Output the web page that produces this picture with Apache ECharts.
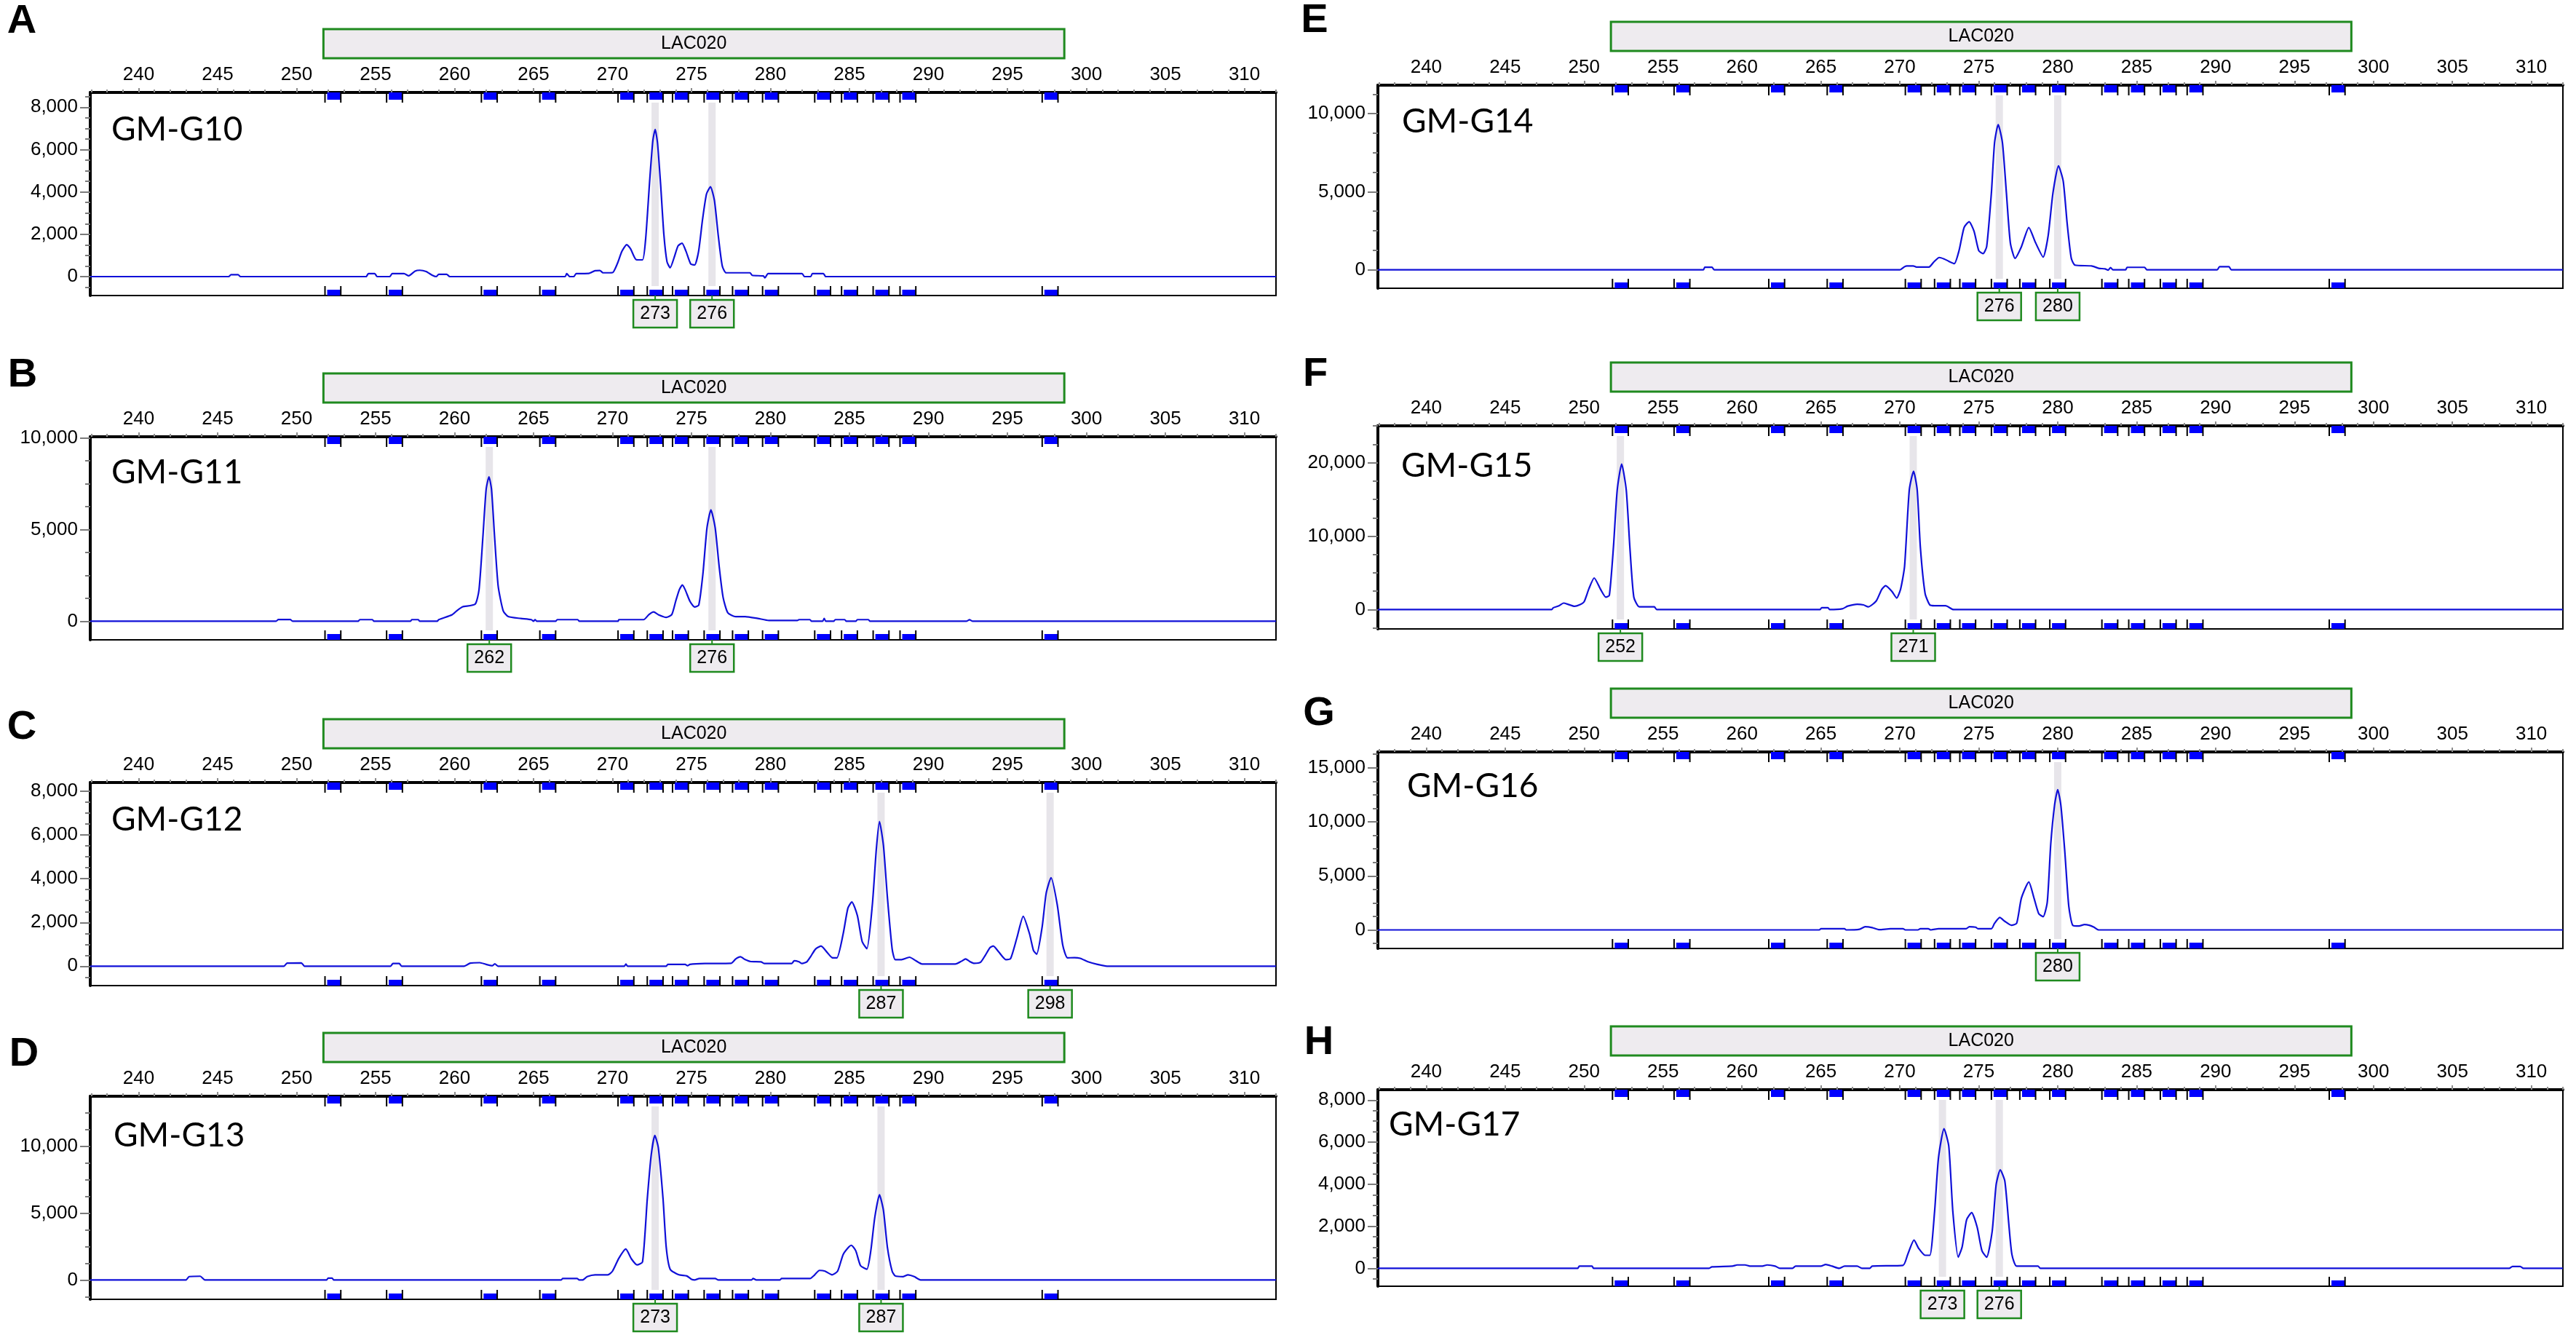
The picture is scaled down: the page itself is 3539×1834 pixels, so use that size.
<!DOCTYPE html>
<html style="height: 100%">
<head>
<meta charset="utf-8">
<script src="https://cdn.jsdelivr.net/npm/echarts@6/dist/echarts.min.js"></script>
</head>
<body style="height: 100%; margin: 0; background: #fff">
<div id="container" style="width: 3539px; height: 1834px"></div>
<script type="text/javascript">
// size axis (bp)
var sizeMin = 236.94, sizeMax = 312.0;
var sizeLabels = [240, 245, 250, 255, 260, 265, 270, 275, 280, 285, 290, 295, 300, 305, 310];
// allele bins of LAC020 (bin centres in bp)
var binSizes = [252.3, 256.2, 262.2, 265.9, 270.85, 272.7, 274.3, 276.3, 278.1, 280.0, 283.3, 285.0, 287.0, 288.7, 297.7];
var markerRange = [251.7, 298.6];
var markerName = 'LAC020';

var panelLetters = ['A', 'B', 'C', 'D', 'E', 'F', 'G', 'H'];
var sampleNames = ['GM-G10', 'GM-G11', 'GM-G12', 'GM-G13', 'GM-G14', 'GM-G15', 'GM-G16', 'GM-G17'];
// RFU range of each panel
var yMins = [-894, -1017, -890, -1446, -1179, -2636, -1717, -852];
var yMaxs = [8698, 10065, 8406, 13718, 11822, 25013, 16465, 8496];
var yLabelValues = [
  [0, 2000, 4000, 6000, 8000],
  [0, 5000, 10000],
  [0, 2000, 4000, 6000, 8000],
  [0, 5000, 10000],
  [0, 5000, 10000],
  [0, 10000, 20000],
  [0, 5000, 10000, 15000],
  [0, 2000, 4000, 6000, 8000]
];
var yMinorSteps = [500, 1250, 500, 1250, 1250, 2500, 1250, 500];

// called alleles: bin position and label
var callSizes = [[272.7, 276.3], [262.2, 276.3], [287.0, 297.7], [272.7, 287.0], [276.3, 280.0], [252.3, 270.85], [280.0], [272.7, 276.3]];
var callLabels = [['273', '276'], ['262', '276'], ['287', '298'], ['273', '287'], ['276', '280'], ['252', '271'], ['280'], ['273', '276']];

// electropherogram traces [size, RFU]
var traceG10 = [[236.94,0],[245.7,0],[245.85,90],[246.3,90],[246.45,0],[254.4,0],[254.55,140],[254.95,140],[255.1,0],[255.9,0],[256.05,140],[256.8,140],[257.1,40],[257.5,260],[257.8,300],[258.2,240],[258.6,60],[258.85,0],[259.0,110],[259.5,110],[259.7,0],[267.0,0],[267.1,140],[267.3,0],[267.55,0],[267.7,140],[268.5,150],[268.9,280],[269.2,290],[269.4,180],[270.0,190],[270.3,600],[270.6,1200],[270.9,1510],[271.15,1300],[271.5,800],[271.9,790],[272.1,1800],[272.35,4500],[272.55,6400],[272.7,6950],[272.85,6300],[273.05,4300],[273.25,2000],[273.45,700],[273.65,420],[273.9,900],[274.15,1450],[274.4,1580],[274.65,1200],[274.95,600],[275.2,550],[275.45,1200],[275.7,2700],[275.95,3900],[276.2,4240],[276.45,3600],[276.7,1900],[276.95,500],[277.2,180],[278.7,180],[278.85,60],[279.55,30],[279.65,-60],[279.85,140],[282.0,140],[282.15,0],[282.55,0],[282.65,140],[283.35,140],[283.5,0],[312,0]];
var traceG11 = [[236.94,0],[248.7,0],[248.85,90],[249.6,90],[249.75,0],[253.9,0],[254.0,85],[254.8,85],[254.9,0],[257.2,0],[257.3,85],[257.7,85],[257.8,0],[258.9,0],[259.0,85],[259.85,357],[260.2,610],[260.5,780],[261.3,925],[261.55,1720],[261.8,4670],[262.0,7190],[262.18,7880],[262.34,7190],[262.53,4670],[262.76,1930],[263.08,570],[263.4,250],[264.2,150],[264.86,85],[265.0,0],[265.1,85],[265.2,0],[266.4,0],[266.5,85],[267.8,85],[267.9,0],[270.35,0],[270.4,85],[271.97,85],[272.3,357],[272.6,505],[272.9,357],[273.4,210],[273.75,357],[274.0,1090],[274.23,1720],[274.42,1976],[274.6,1720],[274.9,1090],[275.2,777],[275.46,880],[275.72,2560],[275.98,5090],[276.23,6075],[276.5,5090],[276.75,2985],[277.0,1300],[277.3,460],[277.8,250],[278.4,250],[279.2,150],[279.9,40],[281.7,40],[281.8,85],[282.5,85],[282.6,0],[283.3,0],[283.4,150],[283.5,0],[284.0,0],[284.1,85],[284.7,85],[284.8,0],[285.4,0],[285.5,85],[286.2,85],[286.3,0],[292.4,0],[292.6,80],[292.8,0],[312,0]];
var traceG12 = [[236.94,0],[249.2,0],[249.4,140],[250.3,150],[250.5,0],[255.95,0],[256.1,120],[256.5,120],[256.65,0],[260.6,0],[261.0,140],[261.6,160],[262.0,80],[262.4,20],[262.55,110],[262.75,0],[270.75,0],[270.85,100],[270.95,0],[273.4,0],[273.5,80],[274.6,80],[274.75,20],[274.9,80],[275.85,120],[277.5,130],[277.8,330],[278.1,430],[278.4,300],[278.75,210],[279.4,200],[279.6,125],[281.35,125],[281.5,245],[281.8,200],[282.0,120],[282.3,200],[282.55,450],[282.85,780],[283.2,920],[283.6,620],[283.9,390],[284.2,380],[284.6,1475],[284.9,2655],[285.15,2940],[285.5,2315],[285.8,1135],[286.1,800],[286.45,2825],[286.7,5355],[286.9,6620],[287.15,5525],[287.4,3160],[287.7,800],[287.9,295],[288.3,300],[288.8,410],[289.2,250],[289.6,100],[291.7,100],[292.1,230],[292.35,330],[292.6,220],[292.9,130],[293.3,180],[293.6,500],[293.9,850],[294.1,920],[294.45,650],[294.9,300],[295.2,350],[295.6,1300],[296.0,2280],[296.4,1475],[296.65,715],[296.85,550],[297.2,1810],[297.45,3330],[297.76,4050],[298.15,2825],[298.5,970],[298.8,380],[299.25,390],[299.6,360],[300.1,200],[300.7,80],[301.3,0],[312,0]];
var traceG13 = [[236.94,0],[243.0,0],[243.2,250],[243.9,280],[244.2,0],[251.9,0],[252.0,140],[252.25,140],[252.35,0],[266.75,0],[266.85,110],[267.75,110],[267.9,0],[268.1,0],[268.4,250],[268.9,385],[269.7,385],[270.0,660],[270.4,1620],[270.84,2310],[271.2,1570],[271.55,1130],[271.9,1350],[272.2,6030],[272.45,9330],[272.68,10790],[272.9,9880],[273.2,6030],[273.4,2450],[273.65,800],[274.2,385],[274.7,300],[275.0,50],[275.2,0],[275.5,110],[276.5,110],[276.7,0],[278.8,0],[278.9,110],[279.1,0],[280.6,0],[280.7,110],[282.5,110],[282.8,385],[283.1,715],[283.45,660],[283.9,385],[284.25,660],[284.6,1900],[284.95,2450],[285.12,2590],[285.4,2175],[285.7,1070],[286.1,800],[286.35,2175],[286.6,4650],[286.9,6360],[287.15,5200],[287.4,2450],[287.7,660],[287.9,300],[288.4,250],[288.7,385],[289.1,250],[289.5,0],[312,0]];
var traceG14 = [[236.94,0],[257.55,0],[257.65,170],[258.1,170],[258.25,0],[270.0,0],[270.3,200],[270.45,250],[270.85,250],[271.05,180],[271.85,180],[272.15,500],[272.5,790],[272.8,700],[273.1,550],[273.45,400],[273.75,1230],[274.07,2710],[274.39,3080],[274.7,2470],[275.0,1230],[275.27,1036],[275.5,1480],[275.8,4930],[276.0,8140],[276.23,9300],[276.5,8140],[276.75,4930],[277.0,1730],[277.3,740],[277.7,1480],[278.17,2710],[278.6,1730],[279.08,814],[279.4,2220],[279.7,4930],[280.05,6660],[280.35,5670],[280.6,2960],[280.86,740],[281.1,300],[282.15,250],[282.6,100],[283.0,60],[283.2,-20],[283.35,150],[283.5,0],[284.3,0],[284.4,160],[285.5,160],[285.65,0],[290.1,0],[290.25,200],[290.85,200],[291.0,0],[312,0]];
var traceG15 = [[236.94,0],[247.95,0],[248.05,250],[248.4,500],[248.7,880],[249.0,700],[249.4,440],[249.7,630],[250.0,1060],[250.3,2800],[250.64,4300],[251.05,2730],[251.38,1680],[251.6,1940],[251.86,8500],[252.1,16300],[252.38,19800],[252.67,16300],[252.9,8500],[253.15,1700],[253.5,370],[254.45,370],[254.6,0],[264.95,0],[265.05,260],[265.45,260],[265.55,0],[266.35,100],[266.7,470],[267.3,730],[267.7,630],[268.0,370],[268.5,1150],[268.85,2730],[269.1,3250],[269.5,2470],[269.8,1570],[270.05,2800],[270.3,5875],[270.6,16300],[270.87,18830],[271.1,16300],[271.3,8500],[271.6,2200],[271.9,630],[272.2,525],[272.9,525],[273.4,0],[312,0]];
var traceG16 = [[236.94,0],[264.9,0],[265.0,110],[266.5,110],[266.6,0],[267.45,60],[267.8,290],[268.25,215],[268.7,20],[269.4,110],[270.2,110],[270.35,0],[271.15,0],[271.3,110],[271.8,110],[271.97,0],[272.45,110],[274.2,110],[274.4,290],[274.8,250],[274.95,110],[275.8,110],[276.0,610],[276.33,1150],[276.65,790],[277.07,430],[277.4,610],[277.7,2940],[278.17,4440],[278.5,2940],[278.8,1500],[279.08,1220],[279.34,2580],[279.56,7950],[279.8,11530],[280.0,12970],[280.2,11530],[280.45,7240],[280.7,2220],[280.95,430],[281.35,360],[281.7,500],[282.0,430],[282.3,250],[282.6,0],[312,0]];
var traceG17 = [[236.94,0],[249.6,0],[249.7,105],[250.5,105],[250.6,0],[257.9,0],[258.1,70],[259.4,105],[259.7,160],[260.2,160],[260.5,105],[261.3,105],[261.6,160],[262.1,105],[262.4,0],[263.2,0],[263.4,105],[265.0,105],[265.3,180],[265.7,105],[266.15,0],[266.5,105],[267.3,105],[267.6,0],[268.1,0],[268.25,105],[270.2,140],[270.5,660],[270.9,1340],[271.2,940],[271.6,620],[271.9,620],[272.2,2680],[272.45,5260],[272.8,6640],[273.1,5810],[273.36,2680],[273.7,530],[273.95,1030],[274.23,2310],[274.55,2650],[274.9,1950],[275.2,840],[275.5,530],[275.85,1760],[276.1,3970],[276.36,4680],[276.65,4150],[276.9,2130],[277.1,660],[277.4,105],[278.75,105],[278.9,0],[308.6,0],[308.8,90],[309.3,90],[309.5,0],[312,0]];
var traces = [traceG10, traceG11, traceG12, traceG13, traceG14, traceG15, traceG16, traceG17];

// layout in px: [left, top, width, height]
var gridBoxes = [
  [124, 127, 1629, 279], [124, 600, 1629, 279], [124, 1075, 1629, 279], [124, 1506, 1629, 279],
  [1893, 117, 1628, 279], [1893, 585, 1628, 279], [1893, 1033, 1628, 270], [1893, 1497, 1628, 270]
];
var nameSpots = [[153, 178], [153, 649], [153, 1126], [156, 1560], [1926, 167], [1925, 640], [1933, 1080], [1908, 1545]];
var letterSpots = [[30, 30], [31, 516], [30, 1000], [33, 1449], [1806, 29], [1807, 515], [1812, 981], [1812, 1433]];

var FONT = 'Liberation Sans, Arial, sans-serif';
var GREEN = '#1f8a1f', BOXFILL = '#eeebef', BLUE = '#0000ff', TRACE = '#1010d8';

function steps(a, b, step) {
  var out = [];
  var start = Math.ceil(a / step) * step;
  for (var v = start; v <= b; v += step) out.push(v);
  return out;
}
var sizeMinor = steps(sizeMin, sizeMax, 1);

var grids = [], xAxes = [], yAxes = [], series = [], graphics = [];

for (var p = 0; p < 8; p++) {
  (function (p) {
    var box = gridBoxes[p];
    var ymin = yMins[p], ymax = yMaxs[p];
    grids.push({ left: box[0], top: box[1], width: box[2], height: box[3], show: true, borderColor: '#000', borderWidth: 2 });

    xAxes.push({
      gridIndex: p, type: 'value', position: 'top', min: sizeMin, max: sizeMax,
      axisLine: { show: true, onZero: false, lineStyle: { color: '#000', width: 4 } },
      axisTick: { show: true, customValues: sizeLabels, length: 6, lineStyle: { color: '#8c8c8c', width: 2 } },
      axisLabel: { show: true, customValues: sizeLabels, fontSize: 26, fontFamily: FONT, color: '#000', margin: 11 },
      splitLine: { show: false }
    });
    // minor size ticks (1 bp), kept on the top edge
    xAxes.push({
      gridIndex: p, type: 'value', position: 'top', min: sizeMin, max: sizeMax,
      axisLine: { show: false, onZero: false },
      axisTick: { show: true, customValues: sizeMinor, length: 4, lineStyle: { color: '#8c8c8c', width: 2 } },
      axisLabel: { show: false },
      splitLine: { show: false }
    });
    yAxes.push({
      gridIndex: p, type: 'value', position: 'left', min: ymin, max: ymax,
      axisLine: { show: true, onZero: false, lineStyle: { color: '#000', width: 4 } },
      axisTick: { show: true, customValues: yLabelValues[p], length: 14, lineStyle: { color: '#7a7a7a', width: 2 } },
      axisLabel: {
        show: true, customValues: yLabelValues[p], fontSize: 26, fontFamily: FONT, color: '#000', margin: 17,
        formatter: function (v) { return Number(v).toLocaleString('en-US'); }
      },
      splitLine: { show: false }
    });
    yAxes.push({
      gridIndex: p, type: 'value', position: 'left', min: ymin, max: ymax,
      axisLine: { show: false, onZero: false },
      axisTick: { show: true, customValues: steps(ymin, ymax, yMinorSteps[p]), length: 7, lineStyle: { color: '#7a7a7a', width: 2 } },
      axisLabel: { show: false },
      splitLine: { show: false }
    });

    var xi = 2 * p, yi = 2 * p;

    // grey bands at called alleles
    series.push({
      type: 'custom', xAxisIndex: xi, yAxisIndex: yi, z: 1, silent: true,
      data: callSizes[p].map(function (s) { return [s, 0]; }),
      renderItem: function (params, api) {
        var c = api.value(0);
        var l = api.coord([c - 0.23, ymax])[0];
        var r = api.coord([c + 0.23, ymax])[0];
        var top = api.coord([c, ymax])[1];
        var bot = api.coord([c, ymin])[1];
        return { type: 'rect', shape: { x: l, y: top + 14, width: r - l, height: bot - top - 27 }, style: { fill: '#e7e5ea' } };
      }
    });

    // trace
    series.push({
      type: 'line', xAxisIndex: xi, yAxisIndex: yi, z: 3, data: traces[p],
      showSymbol: false, symbol: 'none', smooth: 0.2, silent: true,
      lineStyle: { color: TRACE, width: 2.2 }
    });

    // bin markers top and bottom
    series.push({
      type: 'custom', xAxisIndex: xi, yAxisIndex: yi, z: 5, silent: true,
      data: binSizes.map(function (s) { return [s, 0]; }),
      renderItem: function (params, api) {
        var c = api.value(0);
        var l = api.coord([c - 0.5, ymax])[0];
        var r = api.coord([c + 0.5, ymax])[0];
        var top = api.coord([c, ymax])[1];
        var bot = api.coord([c, ymin])[1];
        var edge = { stroke: '#000', lineWidth: 2 };
        return {
          type: 'group', children: [
            { type: 'rect', shape: { x: l + 3, y: top, width: r - l - 3, height: 10 }, style: { fill: BLUE } },
            { type: 'line', shape: { x1: l, y1: top, x2: l, y2: top + 14 }, style: edge },
            { type: 'line', shape: { x1: r, y1: top, x2: r, y2: top + 14 }, style: edge },
            { type: 'rect', shape: { x: l + 3, y: bot - 8, width: r - l - 3, height: 8 }, style: { fill: BLUE } },
            { type: 'line', shape: { x1: l, y1: bot - 13, x2: l, y2: bot }, style: edge },
            { type: 'line', shape: { x1: r, y1: bot - 13, x2: r, y2: bot }, style: edge }
          ]
        };
      }
    });

    // allele call labels under the plot
    series.push({
      type: 'custom', xAxisIndex: xi, yAxisIndex: yi, z: 6, silent: true, clip: false,
      data: callSizes[p].map(function (s) { return [s, 0]; }),
      renderItem: function (params, api) {
        var c = api.value(0);
        var cx = api.coord([c, ymin])[0];
        var bot = api.coord([c, ymin])[1];
        return {
          type: 'group', children: [
            { type: 'line', shape: { x1: cx, y1: bot, x2: cx, y2: bot + 6 }, style: { stroke: GREEN, lineWidth: 2 } },
            { type: 'rect', shape: { x: cx - 30, y: bot + 6, width: 60, height: 38 }, style: { fill: BOXFILL, stroke: GREEN, lineWidth: 2.5 } },
            { type: 'text', x: cx, y: bot + 25, style: { text: callLabels[p][params.dataIndex], fontSize: 25, fontFamily: FONT, fill: '#000', align: 'center', verticalAlign: 'middle' } }
          ]
        };
      }
    });

    // marker (locus) box above the axis
    series.push({
      type: 'custom', xAxisIndex: xi, yAxisIndex: yi, z: 6, silent: true, clip: false,
      data: [[markerRange[0], 0]],
      renderItem: function (params, api) {
        var l = api.coord([markerRange[0], ymax])[0];
        var r = api.coord([markerRange[1], ymax])[0];
        var top = api.coord([markerRange[0], ymax])[1];
        return {
          type: 'group', children: [
            { type: 'rect', shape: { x: l, y: top - 87, width: r - l, height: 40 }, style: { fill: BOXFILL, stroke: GREEN, lineWidth: 3 } },
            { type: 'text', x: (l + r) / 2, y: top - 67, style: { text: markerName, fontSize: 25, fontFamily: FONT, fill: '#000', align: 'center', verticalAlign: 'middle' } }
          ]
        };
      }
    });

    graphics.push({
      type: 'text', x: nameSpots[p][0], y: nameSpots[p][1], z: 10,
      style: { text: sampleNames[p], fontSize: 46, fontFamily: 'Lato, Open Sans, sans-serif', fill: '#000', align: 'left', verticalAlign: 'middle' }
    });
    graphics.push({
      type: 'text', x: letterSpots[p][0], y: letterSpots[p][1], z: 10,
      style: { text: panelLetters[p], fontSize: 56, fontWeight: 'bold', fontFamily: FONT, fill: '#000', align: 'center', verticalAlign: 'middle' }
    });
  })(p);
}

var dom = document.getElementById('container');
var myChart = echarts.init(dom);
var option = {
  backgroundColor: '#ffffff',
  animation: false,
  grid: grids,
  xAxis: xAxes,
  yAxis: yAxes,
  series: series,
  graphic: graphics
};
myChart.setOption(option, true);
</script>
</body>
</html>
